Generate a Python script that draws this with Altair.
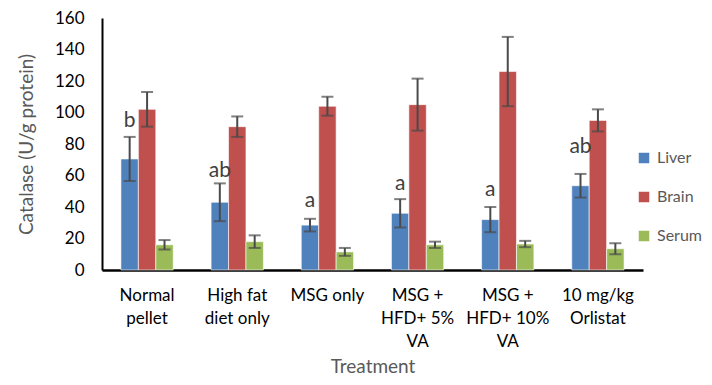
import altair as alt
import pandas as pd

categories = ["Normal|pellet", "High fat|diet only", "MSG only",
              "MSG +|HFD+ 5%|VA", "MSG +|HFD+ 10%|VA", "10 mg/kg|Orlistat"]
organs = ["Liver", "Brain", "Serum"]
liver = [70.5, 43, 28.5, 36, 32, 53.5]
liver_err = [14, 12, 4, 9, 8, 7.5]
brain = [102, 91, 104, 105, 126, 95]
brain_err = [11, 6.5, 6, 16.5, 22, 7]
serum = [16, 18, 11.5, 16, 16.5, 13.5]
serum_err = [3, 4, 2.5, 2, 2, 3.5]
letters = ["b", "ab", "a", "a", "a", "ab"]
letter_y = [91, 59, 40, 51, 47, 74]
y_ticks = [0, 20, 40, 60, 80, 100, 120, 140, 160]
colors = ["#4F81BD", "#C0504D", "#9BBB59"]

rows = []
for org, vals, errs in [("Liver", liver, liver_err), ("Brain", brain, brain_err), ("Serum", serum, serum_err)]:
    for c, v, e in zip(categories, vals, errs):
        rows.append({"cat": c, "organ": org, "value": v, "lo": v - e, "hi": v + e})
df = pd.DataFrame(rows)
ldf = pd.DataFrame({"cat": categories, "organ": ["Liver"] * 6, "letter": letters, "ly": letter_y})

FONT = "Lato"

x_axis = alt.Axis(title="Treatment", labelExpr="split(datum.label, '|')",
                  labelAngle=0, labelFontSize=17, labelColor="#000000", labelFont=FONT,
                  labelLineHeight=23, labelPadding=17, labelBaseline="top",
                  ticks=False, domainColor="#000000", domainWidth=2.5,
                  titleFont=FONT, titleFontSize=19, titleFontWeight="normal",
                  titleColor="#595959", titlePadding=8)
y_axis = alt.Axis(title="Catalase (U/g protein)", values=y_ticks,
                  labelOverlap=False,
                  grid=False, ticks=False, labelFontSize=17, labelColor="#000000",
                  labelFont=FONT, labelPadding=18, domainColor="#000000", domainWidth=2,
                  titleFont=FONT, titleFontSize=19, titleFontWeight="normal",
                  titleColor="#595959", titlePadding=18)
x_scale = alt.Scale(paddingInner=0.42, paddingOuter=0.21)
y_scale = alt.Scale(domain=[0, 160])


def X():
    return alt.X("cat:N", sort=categories, scale=x_scale, axis=x_axis)


def Y(field):
    return alt.Y(field, scale=y_scale, axis=y_axis)


xo = alt.XOffset("organ:N", sort=organs, scale=alt.Scale(domain=organs, paddingInner=0, paddingOuter=0))

bars = alt.Chart(df).mark_bar(stroke="white", strokeWidth=0.6).encode(
    x=X(), xOffset=xo, y=Y("value:Q"),
    color=alt.Color("organ:N", sort=organs,
                    scale=alt.Scale(domain=organs, range=colors),
                    legend=alt.Legend(title=None, orient="none", legendX=534, legendY=132,
                                      symbolType="square", symbolSize=110, symbolStrokeWidth=0,
                                      labelFontSize=16, labelFont=FONT, labelColor="#595959",
                                      rowPadding=23, labelOffset=5))
)
rules = alt.Chart(df).mark_rule(color="#4a4a4a", strokeWidth=2).encode(
    x=X(), xOffset=xo, y=Y("lo:Q"), y2="hi:Q")
caps_hi = alt.Chart(df).mark_tick(color="#4a4a4a", thickness=2, size=12, orient="horizontal").encode(
    x=X(), xOffset=xo, y=Y("hi:Q"))
caps_lo = alt.Chart(df).mark_tick(color="#4a4a4a", thickness=2, size=12, orient="horizontal").encode(
    x=X(), xOffset=xo, y=Y("lo:Q"))
text = alt.Chart(ldf).mark_text(fontSize=21, font=FONT, color="#404040", baseline="alphabetic").encode(
    x=X(), xOffset=xo, y=Y("ly:Q"), text="letter:N")

chart = alt.layer(bars, rules, caps_hi, caps_lo, text).properties(
    width=541, height=252,
    autosize=alt.AutoSizeParams(type="none"),
    padding={"left": 94, "top": 10, "right": 61, "bottom": 107},
).configure_view(stroke=None).configure_axis(labelOverlap=False)

chart.save("out.html", embed_options={"renderer": "svg", "actions": False})
